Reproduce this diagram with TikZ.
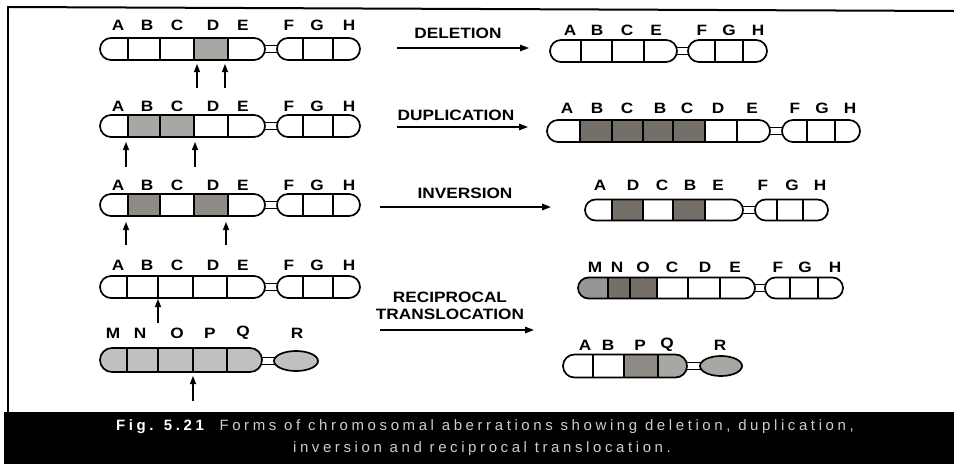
\documentclass[tikz,border=0pt]{standalone}
\usepackage{fontspec}
\setmainfont{Liberation Sans}
\newfontfamily\lblfont{Liberation Sans}[FakeStretch=1.15]
\newfontfamily\capfont{Liberation Sans}[LetterSpace=24]
\usetikzlibrary{arrows.meta}
\definecolor{shA}{RGB}{192,192,190}
\definecolor{shB}{RGB}{168,167,163}
\definecolor{shC}{RGB}{142,139,134}
\definecolor{shD}{RGB}{116,111,105}
\definecolor{shM}{RGB}{150,150,148}
\definecolor{capgray}{RGB}{205,205,200}
\tikzset{
  outline/.style={line width=1.7pt, draw=black},
  divider/.style={line width=1.6pt, draw=black},
  cmline/.style={line width=1.3pt, draw=black, fill=white},
  lab/.style={font=\lblfont\bfseries\fontsize{15}{15}\selectfont, inner sep=0pt, anchor=center},
  proc/.style={font=\lblfont\bfseries\fontsize{15}{17}\selectfont, inner sep=0pt, align=center},
  procarrow/.style={line width=1.4pt, -{Triangle[length=9pt,width=6.5pt]}},
  breakarrow/.style={line width=1.3pt, -{Triangle[length=8pt,width=6pt]}},
  capstyle/.style={font=\capfont\fontsize{15}{17}\selectfont, text=capgray, inner sep=0pt, anchor=center},
}
% #1 left, #2 right, #3 centre y, #4 half height, #5 fills a/b/colour, #6 dividers
\newcommand\carm[6]{%
  \begin{scope}
    \clip[rounded corners=#4pt] (#1,#3-#4) rectangle (#2,#3+#4);
    \fill[white] (#1,#3-#4) rectangle (#2,#3+#4);
    \foreach \fa/\fb/\fc in {#5} {\fill[\fc] (\fa,#3-#4-1) rectangle (\fb,#3+#4+1);}
  \end{scope}
  \foreach \dv in {#6} {\draw[divider] (\dv,#3-#4) -- (\dv,#3+#4);}
  \draw[outline, rounded corners=#4pt] (#1,#3-#4) rectangle (#2,#3+#4);
}
\newcommand\cmere[3]{\draw[cmline] (#1,#3-3.5) rectangle (#2,#3+3.5);}
\begin{document}
\begin{tikzpicture}[x=1pt,y=-1pt]
\useasboundingbox (0,0) rectangle (954,466);
% frame and caption band
\draw[line width=2pt] (8,7) -- (954,11);
\draw[line width=2pt] (8,6) -- (8,413);
\fill[black] (4,412) rectangle (954,464);
\node[capstyle] (cap1) at (485,427) {{\color{white}\bfseries Fig. 5.21}\ \ Forms of chromosomal aberrations showing deletion, duplication,};
\node[capstyle] (cap2) at (482,449) {inversion and reciprocal translocation.};

% ---------- left column ----------
% row 1
\cmere{262}{280}{49}
\carm{100}{265}{49}{11}{194/228/shB}{128,160,194,228}
\carm{277}{360}{49}{11}{0/0/white}{303,333}
\foreach \t/\x [count=\i] in {A/118,B/147,C/177,D/213,E/243,F/289,G/317,H/349}
  \node[lab] (l1-\i) at (\x,25) {\t};
\coordinate (b1a) at (197,88); \coordinate (t1a) at (197,64);
\coordinate (b1b) at (225,88); \coordinate (t1b) at (225,64);
\draw[breakarrow] (b1a) -- (t1a);
\draw[breakarrow] (b1b) -- (t1b);
% row 2
\cmere{262}{280}{126}
\carm{100}{265}{126}{11}{128/194/shB}{128,160,194,228}
\carm{277}{360}{126}{11}{0/0/white}{303,333}
\foreach \t/\x [count=\i] in {A/118,B/147,C/177,D/213,E/243,F/289,G/317,H/349}
  \node[lab] (l2-\i) at (\x,106) {\t};
\coordinate (b2a) at (126,167); \coordinate (t2a) at (126,142);
\coordinate (b2b) at (195,167); \coordinate (t2b) at (195,142);
\draw[breakarrow] (b2a) -- (t2a);
\draw[breakarrow] (b2b) -- (t2b);
% row 3
\cmere{262}{280}{205}
\carm{100}{265}{205}{11}{128/160/shC,194/228/shC}{128,160,194,228}
\carm{277}{360}{205}{11}{0/0/white}{303,333}
\foreach \t/\x [count=\i] in {A/118,B/147,C/177,D/213,E/243,F/289,G/317,H/349}
  \node[lab] (l3-\i) at (\x,185) {\t};
\coordinate (b3a) at (126,245); \coordinate (t3a) at (126,222);
\coordinate (b3b) at (226,245); \coordinate (t3b) at (226,222);
\draw[breakarrow] (b3a) -- (t3a);
\draw[breakarrow] (b3b) -- (t3b);
% row 4
\cmere{262}{280}{287}
\carm{100}{265}{287}{11}{0/0/white}{127,158,193,227}
\carm{277}{360}{287}{11}{0/0/white}{303,333}
\foreach \t/\x [count=\i] in {A/118,B/147,C/177,D/213,E/243,F/289,G/317,H/349}
  \node[lab] (l4-\i) at (\x,265) {\t};
\coordinate (b4a) at (158,323); \coordinate (t4a) at (158,299);
\draw[breakarrow] (b4a) -- (t4a);
% row 5
\cmere{259}{278}{361}
\carm{100}{262}{360}{12}{100/262/shA}{127,158,193,227}
\draw[outline, fill=shA] (296,361) ellipse [x radius=22, y radius=10];
\foreach \t/\x [count=\i] in {M/113,N/140,O/177,P/210,Q/243,R/297}
  \node[lab] (l5-\i) at (\x,333) {\t};
\coordinate (b5a) at (193,401); \coordinate (t5a) at (193,376);
\draw[breakarrow] (b5a) -- (t5a);

% ---------- process arrows ----------
\node[proc] (pdel) at (458,33) {DELETION};
\coordinate (d1) at (397,48); \coordinate (d2) at (529,48);
\draw[procarrow] (d1) -- (d2);
\node[proc] (pdup) at (456,115) {DUPLICATION};
\coordinate (u1) at (397,127); \coordinate (u2) at (528,127);
\draw[procarrow] (u1) -- (u2);
\node[proc] (pinv) at (465,193) {INVERSION};
\coordinate (i1) at (380,207); \coordinate (i2) at (551,207);
\draw[procarrow] (i1) -- (i2);
\node[proc] (ptra) at (450,306) {RECIPROCAL\\TRANSLOCATION};
\coordinate (r1) at (380,330); \coordinate (r2) at (534,330);
\draw[procarrow] (r1) -- (r2);

% ---------- right column ----------
% row 1
\cmere{674}{691}{51}
\carm{550}{677}{51}{11}{0/0/white}{581,612,644}
\carm{688}{767}{51}{11}{0/0/white}{715,743}
\foreach \t/\x [count=\i] in {A/570,B/597,C/627,E/656,F/702,G/729,H/758}
  \node[lab] (r1-\i) at (\x,30) {\t};
% row 2
\cmere{767}{785}{131}
\carm{547}{770}{131}{11}{580/705/shD}{580,612,643,673,705,737}
\carm{782}{860}{131}{11}{0/0/white}{807,835}
\foreach \t/\x [count=\i] in {A/567,B/597,C/627,B/660,C/687,D/718,E/752,F/795,G/822,H/850}
  \node[lab] (r2-\i) at (\x,108) {\t};
% row 3
\cmere{740}{758}{210}
\carm{585}{743}{210}{10.5}{612/643/shD,673/705/shD}{612,643,673,705}
\carm{755}{828}{210}{10.5}{0/0/white}{777,803}
\foreach \t/\x [count=\i] in {A/600,D/633,C/662,B/690,E/718,F/763,G/792,H/820}
  \node[lab] (r3-\i) at (\x,185) {\t};
% row 4
\cmere{752}{768}{288}
\carm{578}{755}{288}{10.5}{578/608/shM,608/657/shD}{608,630,657,688,720}
\carm{765}{843}{288}{10.5}{0/0/white}{790,818}
\foreach \t/\x [count=\i] in {M/595,N/617,O/643,C/672,D/705,E/735,F/778,G/805,H/835}
  \node[lab] (r4-\i) at (\x,267) {\t};
% row 5
\cmere{684}{702}{366}
\carm{563}{687}{366}{11.5}{624/658/shC,658/687/shB}{593,624,658}
\draw[outline, fill=shB] (721,366) ellipse [x radius=21, y radius=10];
\foreach \t/\x [count=\i] in {A/585,B/608,P/640,Q/667,R/720}
  \node[lab] (r5-\i) at (\x,345) {\t};
\end{tikzpicture}
\end{document}
